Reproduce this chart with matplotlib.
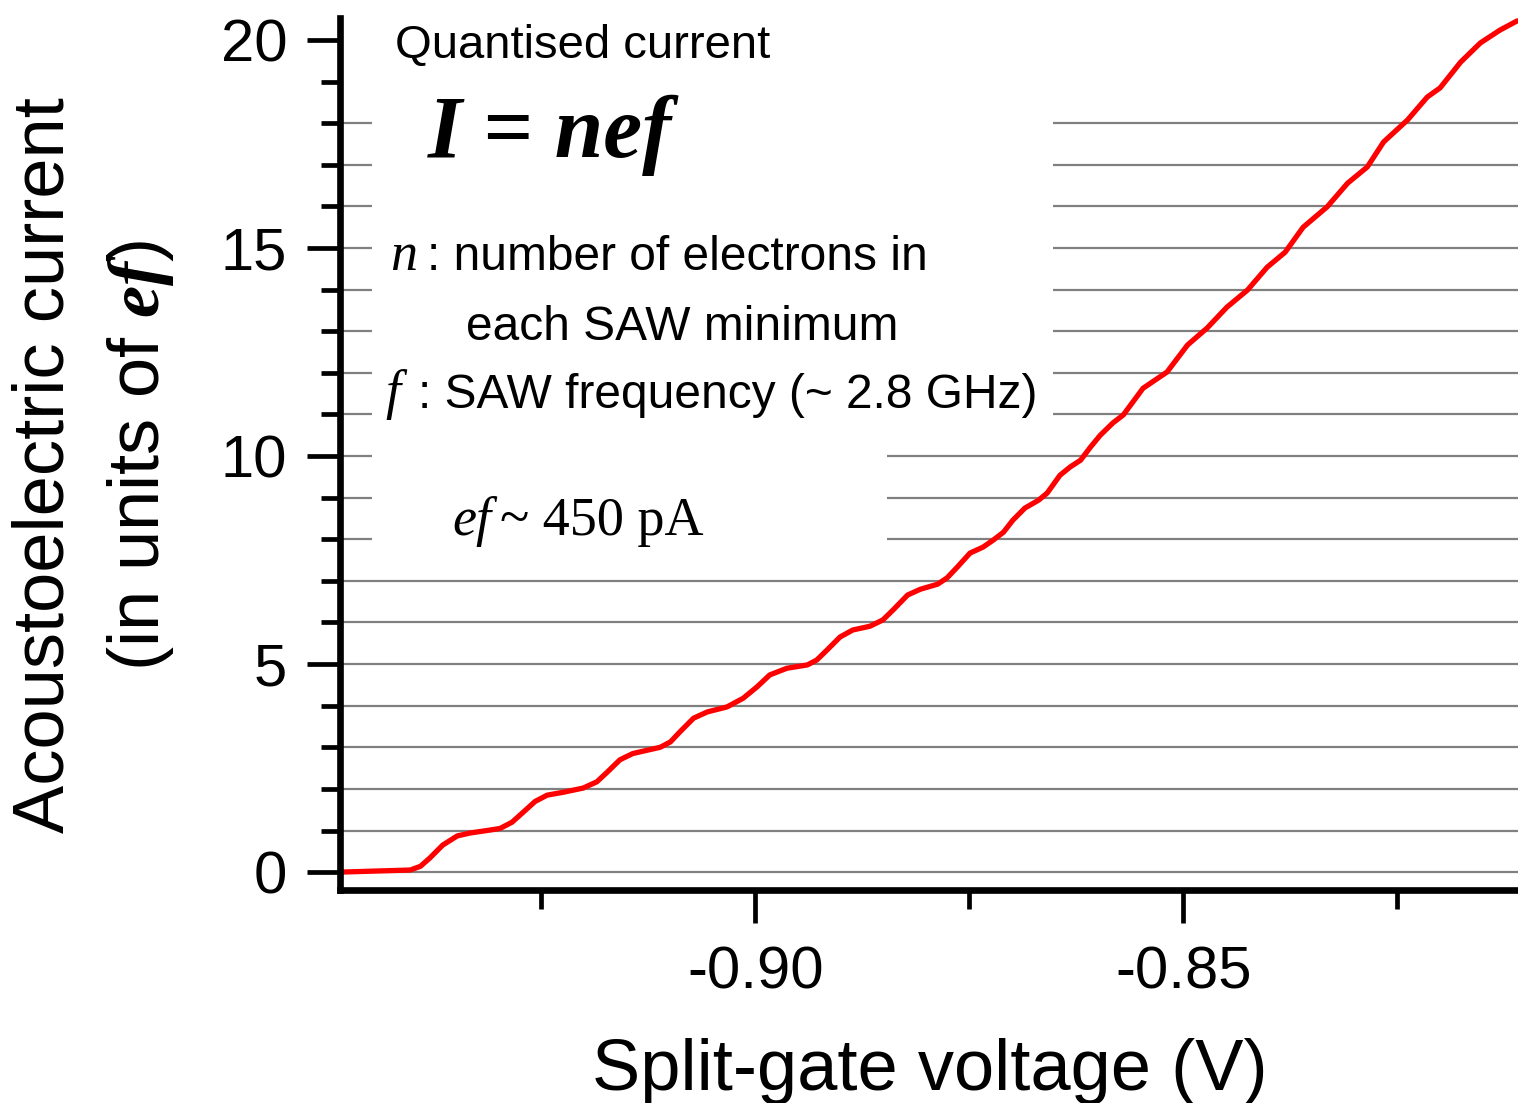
"""Quantised acoustoelectric current vs split-gate voltage."""

import matplotlib
matplotlib.use('Agg')
import matplotlib.pyplot as plt
from matplotlib.patches import Rectangle
from matplotlib.ticker import MultipleLocator, FormatStrFormatter

# split-gate voltage (V) and current (units of ef)
volts = [-0.9485, -0.9403, -0.9391, -0.9380, -0.9365, -0.9348, -0.9333,
         -0.9310, -0.9298, -0.9284, -0.9271, -0.9257, -0.9243, -0.9224,
         -0.9201, -0.9185, -0.9173, -0.9158, -0.9143, -0.9126, -0.9111,
         -0.9099, -0.9088, -0.9072, -0.9056, -0.9033, -0.9014, -0.8998,
         -0.8983, -0.8963, -0.8939, -0.8928, -0.8916, -0.8901, -0.8886,
         -0.8866, -0.8851, -0.8839, -0.8822, -0.8807, -0.8787, -0.8776,
         -0.8764, -0.8749, -0.8734, -0.8722, -0.8710, -0.8699, -0.8685,
         -0.8669, -0.8659, -0.8644, -0.8632, -0.8620, -0.8609, -0.8597,
         -0.8582, -0.8570, -0.8547, -0.8519, -0.8495, -0.8472, -0.8449,
         -0.8425, -0.8402, -0.8381, -0.8360, -0.8332, -0.8308, -0.8285,
         -0.8266, -0.8238, -0.8215, -0.8200, -0.8176, -0.8153, -0.8130,
         -0.8110]
current = [0.00, 0.05, 0.14, 0.34, 0.65, 0.87, 0.94, 1.01, 1.05, 1.20,
           1.44, 1.70, 1.85, 1.92, 2.02, 2.17, 2.40, 2.70, 2.85, 2.93,
           3.00, 3.13, 3.37, 3.70, 3.85, 3.97, 4.18, 4.45, 4.74, 4.90,
           4.98, 5.10, 5.34, 5.65, 5.82, 5.91, 6.06, 6.30, 6.66, 6.80,
           6.92, 7.07, 7.33, 7.67, 7.81, 7.98, 8.17, 8.46, 8.75, 8.94,
           9.11, 9.54, 9.74, 9.90, 10.20, 10.50, 10.80, 10.99, 11.63,
           12.02, 12.67, 13.08, 13.58, 13.99, 14.54, 14.90, 15.50, 15.99,
           16.56, 16.95, 17.55, 18.08, 18.63, 18.85, 19.47, 19.93, 20.24,
           20.46]
plateaus = list(range(0, 19))

W, H = 1518, 1103
SANS = 'Liberation Sans'
SERIF = 'Liberation Serif'

plt.rcParams['font.family'] = SANS
plt.rcParams['axes.unicode_minus'] = False
plt.rcParams['mathtext.fontset'] = 'custom'
plt.rcParams['mathtext.bf'] = 'Liberation Serif:bold:italic'


def px(x, y):
    return x / W, 1 - y / H


fig = plt.figure(figsize=(W / 100, H / 100), dpi=100)
ax = fig.add_axes([340 / W, 1 - 890 / H, (W - 340) / W, (890 - 18) / H])

ax.hlines(plateaus, 0, 1, transform=ax.get_yaxis_transform(),
          colors='#808080', lw=1.6, zorder=1)
# white boxes behind the annotations hide the grid there
ax.add_patch(Rectangle((0.027, 0.523), 0.578, 0.5, transform=ax.transAxes,
                       facecolor='white', edgecolor='none', zorder=2,
                       clip_on=False))
ax.add_patch(Rectangle((0.027, 0.378), 0.437, 0.146, transform=ax.transAxes,
                       facecolor='white', edgecolor='none', zorder=2))
ax.plot(volts, current, color='#ff0000', lw=3.8, zorder=3,
        solid_joinstyle='round', solid_capstyle='round')

ax.set_xlim(-0.9485, -0.8109)
ax.set_ylim(-0.43, 20.53)
for side in ('top', 'right'):
    ax.spines[side].set_visible(False)
for side in ('left', 'bottom'):
    ax.spines[side].set_linewidth(4.8)
    ax.spines[side].set_zorder(5)

ax.xaxis.set_major_locator(MultipleLocator(0.05))
ax.xaxis.set_minor_locator(MultipleLocator(0.025))
ax.xaxis.set_major_formatter(FormatStrFormatter('%.2f'))
ax.yaxis.set_major_locator(MultipleLocator(5))
ax.yaxis.set_minor_locator(MultipleLocator(1))
ax.tick_params(which='major', direction='out', length=24, width=3.4,
               labelsize=43, pad=16)
ax.tick_params(which='minor', direction='out', length=14, width=3.4)
ax.tick_params(axis='y', which='major', pad=14)

fig.text(*px(930, 1090), 'Split-gate voltage (V)', fontsize=52,
         ha='center', va='baseline')
fig.text(*px(45, 465), 'Acoustoelectric current', fontsize=52,
         rotation=90, ha='center', va='center')
fig.text(*px(140, 455), r'(in units of $\mathbf{ef}$)', fontsize=52,
         rotation=90, ha='center', va='center')

fig.text(*px(395, 58), 'Quantised current', fontsize=34, va='baseline')
fig.text(*px(428, 157), 'I = nef', fontsize=63, family=SERIF,
         style='italic', weight='bold', va='baseline')
fig.text(*px(390, 270), 'n', fontsize=39, family=SERIF, style='italic',
         va='baseline')
fig.text(*px(427, 270), ': number of electrons in', fontsize=34.5,
         va='baseline')
fig.text(*px(466, 340), 'each SAW minimum', fontsize=34.5, va='baseline')
fig.text(*px(385, 408), 'f', fontsize=39, family=SERIF, style='italic',
         va='baseline')
fig.text(*px(418, 408), ': SAW frequency (~ 2.8 GHz)', fontsize=34.5,
         va='baseline')
fig.text(*px(452, 535), 'ef', fontsize=39, family=SERIF, style='italic',
         va='baseline')
fig.text(*px(500, 535), '~ 450 pA', fontsize=39, family=SERIF,
         va='baseline')

fig.savefig('out.png', dpi=100)
